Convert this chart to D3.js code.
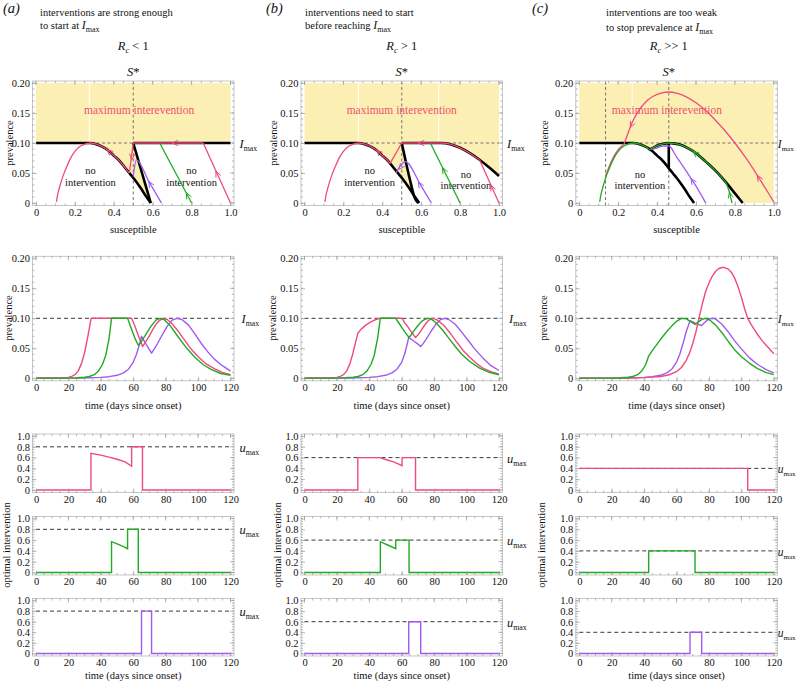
<!DOCTYPE html>
<html><head><meta charset="utf-8">
<script src="https://cdn.jsdelivr.net/npm/d3@7"></script>
<style>
body{margin:0;background:#fff;}
svg text{font-family:"Liberation Serif","DejaVu Serif","Times New Roman",serif !important;fill:#111;}
</style></head><body>
<svg id="chart" width="798" height="683"></svg>
<script>
// ================= DATA =================
const panelLetters = ["(a)","(b)","(c)"];
const headerLine1 = ["interventions are strong enough","interventions need to start","interventions are too weak"];
const headerLine2 = ["to start at ","before reaching ","to stop prevalence at "];
const rcRelation = [" < 1"," > 1"," >> 1"];
const Imax = 0.1;
const umaxValues = [0.8, 0.6, 0.4];
const sStarValues = [0.5, 0.5, 0.46];
const extraDashedS = [[], [], [0.135]];
const maxTextS = [0.53, 0.5, 0.45];

const sTicks = [0,0.2,0.4,0.6,0.8,1.0];
const sTickLabels = ["0","0.2","0.4","0.6","0.8","1.0"];
const iTicks = [0,0.05,0.1,0.15,0.2];
const iTickLabels = ["0","0.05","0.10","0.15","0.20"];
const tTicks = [0,20,40,60,80,100,120];
const tTickLabels = ["0","20","40","60","80","100","120"];
const uTicks = [0,0.2,0.4,0.6,0.8,1.0];
const uTickLabels = ["0","0.2","0.4","0.6","0.8","1.0"];

// ---- phase plane (susceptible, prevalence) ----
const maxInterventionZone = [[0,0.1],[1,0.1],[1,0.2],[0,0.2]];
const peakCurveLeft = [[0.105,0.002],[0.11,0.012],[0.12,0.025],[0.14,0.046],[0.16,0.062],[0.18,0.076],[0.2,0.086],[0.22,0.093],[0.25,0.098],[0.28,0.1]];
const peakCurveRight = [[0.28,0.1],[0.31,0.098],[0.34,0.094],[0.37,0.088],[0.4,0.079],[0.43,0.07],[0.46,0.058],[0.48,0.05],[0.5,0.042],[0.54,0.024],[0.57,0.009],[0.59,0]];
const imaxFlatLeft = [[0,0.1],[0.28,0.1]];
const imaxFlatRightA = [[0.5,0.1],[1.0,0.1]];
const controlLineA = [[0.5,0.1],[0.545,0.05],[0.59,0]];
const controlLineB = [[0.5,0.1],[0.52,0.07],[0.545,0.035],[0.565,0.01],[0.585,0]];
const boundaryRightB = [[0.5,0.1],[0.7,0.1],[0.75,0.098],[0.8,0.092],[0.85,0.083],[0.9,0.072],[0.95,0.059],[1.0,0.045]];
const domeC = [[0.357,0.088],[0.38,0.092],[0.41,0.097],[0.44,0.099],[0.46,0.1],[0.49,0.099],[0.52,0.097],[0.56,0.091],[0.6,0.083],[0.65,0.069],[0.7,0.054],[0.75,0.036],[0.8,0.016],[0.84,0]];
const verticalC = [[0.46,0.1],[0.46,0.058]];
const whiteLinesA = [[0.274,0.1,0.2]];
const whiteLinesB = [[0.277,0.1,0.2],[0.69,0.1,0.2]];
const whiteLinesC = [[0.272,0.135,0.2]];

// trajectories (a)
const pinkA_rise = [[0.86,0.1],[1.0,0]];
const pinkA_hold = [[0.5,0.1],[0.86,0.1]];
const pinkA_drop = [[0.48,0.05],[0.5,0.1]];
const greenA_rise = [[0.636,0.1],[0.8,0]];
const purpleA_path = [[0.5,0.044],[0.516,0.072],[0.58,0.036],[0.645,0]];
// trajectories (b)
const pinkB_rise = [[0.9,0.072],[1.0,0]];
const pinkB_drop = [[0.44,0.066],[0.5,0.1]];
const greenB_rise = [[0.647,0.1],[0.8,0]];
const purpleB_path = [[0.47,0.05],[0.518,0.069],[0.6,0.028],[0.652,0]];
// trajectories (c)
const pinkC_dome = [[0.23,0.098],[0.25,0.116],[0.27,0.133],[0.3,0.151],[0.34,0.168],[0.38,0.178],[0.42,0.183],[0.46,0.185],[0.5,0.183],[0.55,0.177],[0.6,0.167],[0.65,0.154],[0.7,0.138],[0.75,0.12],[0.8,0.1],[0.85,0.078],[0.9,0.054],[0.95,0.028],[1.0,0.002]];
const pinkC_tail = [[0.135,0.045],[0.15,0.058],[0.17,0.073],[0.2,0.089],[0.23,0.098]];
const greenC_start = [[0.75,0.036],[0.77,0.02],[0.785,0]];
const purpleC_path = [[0.37,0.089],[0.4,0.092],[0.43,0.095],[0.46,0.095],[0.5,0.077],[0.55,0.053],[0.6,0.028],[0.65,0]];

// arrows: [atS, atI, fromS, fromI]
const arrowsPinkA = [[0.925,0.053,1.0,0],[0.70,0.1,0.8,0.1],[0.492,0.072,0.5,0.1],[0.365,0.089,0.4,0.079]];
const arrowsGreenA = [[0.773,0.017,0.8,0]];
const arrowsPurpleA = [[0.58,0.036,0.645,0]];
const arrowsPinkB = [[0.958,0.03,1.0,0],[0.585,0.1,0.65,0.1],[0.37,0.088,0.4,0.079]];
const arrowsGreenB = [[0.71,0.059,0.8,0]];
const arrowsPurpleB = [[0.585,0.035,0.652,0],[0.485,0.056,0.518,0.069]];
const arrowsPinkC = [[0.915,0.046,1.0,0.002],[0.262,0.126,0.3,0.151]];
const arrowsGreenC = [[0.585,0.086,0.65,0.069],[0.772,0.018,0.785,0]];
const arrowsPurpleC = [[0.575,0.041,0.65,0]];

// ---- prevalence over time (t, I) ----
const tsPinkA = [[0,0.0005],[10,0.0006],[15,0.0009],[20,0.0016],[22,0.003],[24,0.006],[26,0.012],[28,0.024],[30,0.043],[32,0.07],[33,0.085],[34,0.1],[59,0.1],[61,0.087],[63,0.072],[65.7,0.053],[68,0.062],[70,0.071],[72,0.081],[74,0.09],[76,0.096],[78.5,0.1],[81,0.098],[84,0.091],[87,0.081],[90,0.07],[95,0.051],[100,0.036],[105,0.024],[110,0.016],[115,0.01],[120,0.006]];
const tsGreenA = [[0,0.0003],[20,0.0006],[25,0.001],[30,0.0017],[33,0.003],[36,0.006],[38.5,0.012],[41,0.023],[43,0.038],[45,0.065],[46.6,0.1],[56.5,0.1],[58.5,0.085],[61,0.067],[63.1,0.055],[65,0.061],[68,0.074],[71,0.087],[74,0.097],[76.5,0.1],[79,0.098],[83,0.087],[88,0.068],[93,0.05],[98,0.035],[103,0.023],[108,0.015],[114,0.008],[120,0.005]];
const tsPurpleA = [[0,0.0002],[20,0.0003],[30,0.0006],[40,0.0015],[45,0.0027],[50,0.005],[54,0.009],[57,0.015],[60,0.027],[62,0.04],[64,0.058],[65.1,0.07],[67,0.061],[69,0.052],[71.3,0.042],[73,0.049],[75,0.058],[78,0.073],[81,0.087],[84,0.097],[87,0.1],[90,0.098],[94,0.089],[98,0.074],[102,0.058],[106,0.044],[110,0.032],[115,0.021],[120,0.012]];
const tsPinkB = [[0,0.0005],[10,0.0006],[15,0.0009],[20,0.0016],[22,0.003],[24,0.006],[26,0.012],[28,0.024],[30,0.043],[31.5,0.06],[32.9,0.075],[35,0.082],[38,0.089],[41,0.094],[44,0.098],[46.4,0.1],[60.2,0.1],[62,0.092],[64,0.085],[66,0.077],[68.5,0.068],[70,0.072],[72,0.08],[74,0.088],[76,0.095],[78,0.099],[79.5,0.1],[82,0.097],[86,0.088],[90,0.075],[94,0.06],[98,0.046],[102,0.035],[106,0.025],[110,0.017],[115,0.011],[120,0.007]];
const tsGreenB = [[0,0.0003],[20,0.0006],[25,0.001],[30,0.0017],[33,0.003],[36,0.006],[38.5,0.012],[41,0.023],[43,0.038],[45,0.065],[46.8,0.1],[56.3,0.1],[58,0.093],[60,0.085],[62,0.077],[64.5,0.068],[66,0.073],[68,0.081],[70,0.088],[72,0.094],[74,0.098],[76,0.1],[78,0.099],[81,0.093],[85,0.081],[89,0.067],[93,0.053],[97,0.04],[102,0.028],[108,0.017],[114,0.01],[120,0.006]];
const tsPurpleB = [[0,0.0002],[20,0.0003],[30,0.0006],[40,0.0015],[45,0.0027],[50,0.005],[54,0.009],[57,0.015],[60,0.027],[62,0.042],[64.3,0.068],[66,0.065],[68,0.061],[70,0.057],[71.7,0.053],[73,0.057],[75,0.065],[78,0.078],[81,0.09],[84,0.098],[86.5,0.1],[89,0.098],[93,0.09],[97,0.077],[101,0.063],[105,0.049],[110,0.034],[115,0.021],[120,0.013]];
const tsPinkC = [[0,0.0001],[20,0.0003],[30,0.0006],[40,0.0012],[45,0.0019],[50,0.003],[55,0.0055],[60,0.011],[63,0.018],[66,0.03],[68,0.042],[70,0.058],[72,0.078],[73.8,0.1],[76,0.125],[78,0.145],[80,0.159],[82,0.17],[84,0.178],[86,0.183],[89,0.185],[92,0.182],[94,0.176],[96,0.166],[98,0.152],[100,0.135],[102,0.116],[103.9,0.1],[106,0.09],[108,0.081],[110,0.073],[113,0.062],[116,0.053],[120,0.041]];
const tsGreenC = [[0,0.0003],[20,0.0006],[25,0.001],[30,0.0017],[33,0.003],[36,0.006],[38.5,0.012],[41,0.023],[42.8,0.037],[45,0.046],[48,0.057],[51,0.068],[54,0.078],[57,0.087],[60,0.095],[63,0.1],[66,0.099],[68.5,0.095],[71.4,0.09],[73,0.093],[75,0.097],[77.5,0.1],[80,0.098],[84,0.089],[88,0.076],[92,0.061],[96,0.047],[100,0.036],[105,0.025],[110,0.016],[115,0.01],[120,0.006]];
const tsPurpleC = [[0,0.0002],[20,0.0003],[30,0.0006],[40,0.0015],[45,0.0027],[50,0.005],[54,0.009],[57,0.015],[60,0.027],[62,0.04],[64,0.058],[66,0.078],[68.3,0.096],[70,0.094],[72,0.091],[75.5,0.088],[77,0.092],[79,0.097],[81.5,0.1],[84,0.099],[88,0.09],[92,0.077],[96,0.062],[100,0.049],[105,0.034],[110,0.023],[115,0.015],[120,0.009]];

// ---- optimal intervention (t, u) ----
const uPinkA = [[0,0],[33.9,0],[33.9,0.68],[40,0.645],[45,0.61],[50,0.57],[55,0.52],[59,0.44],[59,0.8],[65.7,0.8],[65.7,0],[120,0]];
const uGreenA = [[0,0],[46.6,0],[46.6,0.57],[50,0.53],[54,0.48],[56.5,0.44],[56.5,0.8],[63.1,0.8],[63.1,0],[120,0]];
const uPurpleA = [[0,0],[65.1,0],[65.1,0.8],[71.3,0.8],[71.3,0],[120,0]];
const uPinkB = [[0,0],[32.9,0],[32.9,0.6],[46.4,0.6],[50,0.565],[55,0.52],[60.2,0.45],[60.2,0.6],[68.5,0.6],[68.5,0],[120,0]];
const uGreenB = [[0,0],[46.8,0],[46.8,0.57],[52,0.5],[56.3,0.44],[56.3,0.6],[64.5,0.6],[64.5,0],[120,0]];
const uPurpleB = [[0,0],[64.3,0],[64.3,0.6],[71.7,0.6],[71.7,0],[120,0]];
const uPinkC = [[0,0.4],[103.9,0.4],[103.9,0],[120,0]];
const uGreenC = [[0,0],[42.8,0],[42.8,0.4],[71.4,0.4],[71.4,0],[120,0]];
const uPurpleC = [[0,0],[68.3,0],[68.3,0.4],[75.5,0.4],[75.5,0],[120,0]];

// ================= STYLE / LAYOUT =================
const PINK = "#ef4a80", GREEN = "#22aa22", PURPLE = "#a05af0", YELLOW = "#fcefb3";
const SERIF = "Liberation Serif, DejaVu Serif, serif";
const colX0 = [36, 304.5, 579.3];
const plotW = 194.5;
const labelGap = [9, 8, 4];
const labelSize = [12.5, 12.5, 11.5];
const subSize = [7.8, 7.8, 7];
const phaseRange = [203, 83];
const timeRange = [378.3, 258.3];
const uRanges = [[490, 436], [572.5, 518.5], [653.5, 600.5]];

const svg = d3.select("#chart");

function frameAxes(g, xs, ys, xT, xL, yT, yL, xMinor, yMinor) {
  const [xa, xb] = xs.range();
  const [ya, yb] = ys.range();
  const L = xa - 3.5, R = xb + 3.5, B = ya + 2.5, T = yb - 2;
  g.append("rect").attr("x", L).attr("y", T).attr("width", R - L).attr("height", B - T)
    .attr("fill", "none").attr("stroke", "#b8b8b8").attr("stroke-width", 0.8);
  const tk = g.append("g").attr("stroke", "#9a9a9a").attr("stroke-width", 0.7);
  const xd = xs.domain(), yd = ys.domain();
  d3.range(xd[0], xd[1] + 1e-9, xMinor).forEach(v => {
    tk.append("line").attr("x1", xs(v)).attr("x2", xs(v)).attr("y1", B).attr("y2", B - 2);
    tk.append("line").attr("x1", xs(v)).attr("x2", xs(v)).attr("y1", T).attr("y2", T + 2);
  });
  d3.range(yd[0], yd[1] + 1e-9, yMinor).forEach(v => {
    tk.append("line").attr("x1", L).attr("x2", L + 2).attr("y1", ys(v)).attr("y2", ys(v));
    tk.append("line").attr("x1", R).attr("x2", R - 2).attr("y1", ys(v)).attr("y2", ys(v));
  });
  xT.forEach(v => tk.append("line").attr("x1", xs(v)).attr("x2", xs(v)).attr("y1", T).attr("y2", T + 4));
  yT.forEach(v => tk.append("line").attr("x1", R).attr("x2", R - 4).attr("y1", ys(v)).attr("y2", ys(v)));
  const ax = g.append("g").attr("transform", `translate(0,${B})`)
    .call(d3.axisBottom(xs).tickValues(xT).tickFormat((d, i) => xL[i]).tickSize(-4).tickPadding(3));
  const ay = g.append("g").attr("transform", `translate(${L},0)`)
    .call(d3.axisLeft(ys).tickValues(yT).tickFormat((d, i) => yL[i]).tickSize(-4).tickPadding(2.5));
  [ax, ay].forEach(a => {
    a.attr("font-family", SERIF);
    a.select(".domain").remove();
    a.selectAll(".tick line").attr("stroke", "#9a9a9a").attr("stroke-width", 0.7);
    a.selectAll(".tick text").attr("font-size", 10.5).attr("fill", "#222").style("font-family", SERIF);
  });
}

function subLabel(g, x, y, base, sub, k) {
  const t = g.append("text").attr("x", x).attr("y", y).attr("font-size", labelSize[k]);
  t.append("tspan").attr("font-style", "italic").text(base);
  t.append("tspan").attr("font-size", subSize[k]).attr("dy", 3).text(sub);
  return t;
}

function vlabel(g, x, y, txt) {
  g.append("text").attr("transform", `translate(${x},${y}) rotate(-90)`)
    .attr("text-anchor", "middle").attr("font-size", 10.5).text(txt);
}

function drawArrow(g, sx, sy, a, color) {
  const x2 = sx(a[0]), y2 = sy(a[1]), x1 = sx(a[2]), y1 = sy(a[3]);
  const ang = Math.atan2(y2 - y1, x2 - x1), Lh = 6.5, sp = 0.42;
  const pts = [[x2 - Lh * Math.cos(ang - sp), y2 - Lh * Math.sin(ang - sp)], [x2, y2],
               [x2 - Lh * Math.cos(ang + sp), y2 - Lh * Math.sin(ang + sp)]];
  g.append("path").attr("d", d3.line()(pts)).attr("fill", "none").attr("stroke", color).attr("stroke-width", 1);
}

// ---------- phase specs ----------
const phaseSpecs = [
  {
    yellow: [maxInterventionZone, [[0.28,0.1],...controlLineA, ...peakCurveRight.slice().reverse()]],
    white: whiteLinesA,
    black: [imaxFlatLeft, imaxFlatRightA, peakCurveRight, controlLineA],
    traj: [
      {color: PURPLE, pieces: [purpleA_path], arrows: arrowsPurpleA},
      {color: GREEN, pieces: [greenA_rise], arrows: arrowsGreenA},
      {color: PINK, pieces: [pinkA_rise, pinkA_hold, pinkA_drop, peakCurveRight.filter(p => p[0] <= 0.48), peakCurveLeft], arrows: arrowsPinkA}
    ],
    noInt: [[0.28, 0.049, 0.029], [0.8, 0.049, 0.029]]
  },
  {
    yellow: [maxInterventionZone, [[0.28,0.1],...controlLineB, ...peakCurveRight.slice().reverse()],
             [[0.7,0.1],[1.0,0.1], ...boundaryRightB.filter(p => p[0] >= 0.7).reverse()]],
    white: whiteLinesB,
    black: [imaxFlatLeft, peakCurveRight, controlLineB, boundaryRightB],
    traj: [
      {color: PURPLE, pieces: [purpleB_path], arrows: arrowsPurpleB},
      {color: GREEN, pieces: [greenB_rise], arrows: arrowsGreenB},
      {color: PINK, pieces: [pinkB_rise, boundaryRightB.filter(p => p[0] <= 0.9), pinkB_drop, [...peakCurveRight.filter(p => p[0] <= 0.43), [0.44,0.066]], peakCurveLeft], arrows: arrowsPinkB}
    ],
    noInt: [[0.335, 0.049, 0.029], [0.83, 0.041, 0.024]]
  },
  {
    yellow: [[[0,0.1],[0,0.2],[1,0.2],[1,0],...domeC.slice().reverse(), ...peakCurveRight.filter(p => p[0] <= 0.34).reverse()]],
    white: whiteLinesC,
    black: [imaxFlatLeft, peakCurveRight, domeC, verticalC],
    traj: [
      {color: PURPLE, pieces: [purpleC_path], arrows: arrowsPurpleC},
      {color: PINK, pieces: [pinkC_dome, pinkC_tail], arrows: arrowsPinkC},
      {color: GREEN, pieces: [greenC_start, domeC.filter(p => p[0] <= 0.75), [...peakCurveRight.filter(p => p[0] <= 0.34), [0.357,0.09]], peakCurveLeft], arrows: arrowsGreenC}
    ],
    noInt: [[0.312, 0.042, 0.024]]
  }
];

function drawPiece(g, sx, sy, piece, color, width) {
  const pts = piece.slice().sort((a, b) => a[0] - b[0]);
  let strictly = pts.length > 2;
  for (let i = 1; i < pts.length; i++) if (pts[i][0] <= pts[i - 1][0]) strictly = false;
  const ln = d3.line().x(d => sx(d[0])).y(d => sy(d[1])).curve(strictly ? d3.curveMonotoneX : d3.curveLinear);
  g.append("path").attr("d", ln(strictly ? pts : piece)).attr("fill", "none")
    .attr("stroke", color).attr("stroke-width", width).attr("stroke-linejoin", "round").attr("stroke-linecap", "butt");
}

for (let k = 0; k < 3; k++) {
  const x0 = colX0[k];
  const spec = phaseSpecs[k];
  const g = svg.append("g");
  const sx = d3.scaleLinear().domain([0, 1]).range([x0, x0 + plotW]);
  const sy = d3.scaleLinear().domain([0, 0.2]).range(phaseRange);
  const lin = d3.line().x(d => sx(d[0])).y(d => sy(d[1]));

  spec.yellow.forEach(p => g.append("path").attr("d", lin(p) + "Z").attr("fill", YELLOW));
  spec.white.forEach(w => g.append("line").attr("x1", sx(w[0])).attr("x2", sx(w[0]))
    .attr("y1", sy(w[1])).attr("y2", sy(w[2])).attr("stroke", "#fff").attr("stroke-width", 1));

  g.append("text").attr("x", sx(maxTextS[k])).attr("y", sy(0.155) + 4).attr("text-anchor", "middle")
    .attr("font-size", 11.5).style("fill", "#f0506e").text("maximum interevention");
  spec.noInt.forEach(n => {
    g.append("text").attr("x", sx(n[0])).attr("y", sy(n[1])).attr("text-anchor", "middle").attr("font-size", 10.5).text("no");
    g.append("text").attr("x", sx(n[0])).attr("y", sy(n[2])).attr("text-anchor", "middle").attr("font-size", 10.5).text("intervention");
  });

  const dash = g.append("g").attr("stroke", "#666").attr("stroke-width", 0.9).attr("stroke-dasharray", "3,2.5");
  dash.append("line").attr("x1", sx(0)).attr("x2", sx(1)).attr("y1", sy(Imax)).attr("y2", sy(Imax));
  [sStarValues[k], ...extraDashedS[k]].forEach(s =>
    dash.append("line").attr("x1", sx(s)).attr("x2", sx(s)).attr("y1", phaseRange[0] + 2.5).attr("y2", phaseRange[1] - 2));

  spec.black.forEach(p => drawPiece(g, sx, sy, p, "#000", 2.6));
  spec.traj.forEach(tr => {
    tr.pieces.forEach(p => drawPiece(g, sx, sy, p, tr.color, 1.3));
    tr.arrows.forEach(a => drawArrow(g, sx, sy, a, tr.color));
  });

  frameAxes(g, sx, sy, sTicks, sTickLabels, iTicks, iTickLabels, 0.05, 0.01);

  subLabel(g, x0 + plotW + labelGap[k], sy(Imax) + 4.5, "I", "max", k);
  const sst = g.append("text").attr("x", sx(sStarValues[k])).attr("y", 76).attr("text-anchor", "middle").attr("font-size", 12.5);
  sst.append("tspan").attr("font-style", "italic").text("S");
  sst.append("tspan").text("*");
  const rc = g.append("text").attr("x", sx(sStarValues[k])).attr("y", 50).attr("text-anchor", "middle").attr("font-size", 12.5);
  rc.append("tspan").attr("font-style", "italic").text("R");
  rc.append("tspan").attr("font-style", "italic").attr("font-size", 8.5).attr("dy", 3).text("c");
  rc.append("tspan").attr("dy", -3).text(rcRelation[k]);
  g.append("text").attr("x", x0 + plotW / 2).attr("y", 233).attr("text-anchor", "middle").attr("font-size", 10.5).text("susceptible");
}

// headers
const headerX = [40, 305, 606];
const letterX = [3, 266, 532];
for (let k = 0; k < 3; k++) {
  svg.append("text").attr("x", letterX[k]).attr("y", 13).attr("font-size", 14.5).attr("font-style", "italic").text(panelLetters[k]);
  svg.append("text").attr("x", headerX[k]).attr("y", 16).attr("font-size", 10.5).text(headerLine1[k]);
  const h2 = svg.append("text").attr("x", headerX[k]).attr("y", k === 2 ? 31 : 29).attr("font-size", 10.5);
  h2.append("tspan").text(headerLine2[k]);
  h2.append("tspan").attr("font-style", "italic").attr("font-size", 12).text("I");
  h2.append("tspan").attr("font-size", 8).attr("dy", 3).text("max");
}
const prevLabelX = [13, 277, 548];
const optLabelX = [10, 281, 545];
for (let k = 0; k < 3; k++) {
  vlabel(svg, prevLabelX[k], 143, "prevalence");
  vlabel(svg, prevLabelX[k] - 1, 318, "prevalence");
  vlabel(svg, optLabelX[k], 545, "optimal intervention");
}

// ---------- time series ----------
const tsSets = [[tsPinkA, tsGreenA, tsPurpleA], [tsPinkB, tsGreenB, tsPurpleB], [tsPinkC, tsGreenC, tsPurpleC]];
const tsColors = [PINK, GREEN, PURPLE];
const tsOrder = [2, 0, 1];
for (let k = 0; k < 3; k++) {
  const x0 = colX0[k];
  const g = svg.append("g");
  const tx = d3.scaleLinear().domain([0, 120]).range([x0, x0 + plotW]);
  const iy = d3.scaleLinear().domain([0, 0.2]).range(timeRange);
  const ln = d3.line().x(d => tx(d[0])).y(d => iy(d[1]));
  g.append("line").attr("x1", tx(0)).attr("x2", tx(120)).attr("y1", iy(Imax)).attr("y2", iy(Imax))
    .attr("stroke", "#222").attr("stroke-width", 0.9).attr("stroke-dasharray", "4,3");
  tsOrder.forEach(j => g.append("path").attr("d", ln(tsSets[k][j])).attr("fill", "none")
    .attr("stroke", tsColors[j]).attr("stroke-width", 1.4).attr("stroke-linejoin", "round"));
  frameAxes(g, tx, iy, tTicks, tTickLabels, iTicks, iTickLabels, 5, 0.01);
  subLabel(g, x0 + plotW + labelGap[k] + (k === 2 ? 0 : 2), iy(Imax) + 4.5, "I", "max", k);
  g.append("text").attr("x", x0 + plotW / 2).attr("y", 409).attr("text-anchor", "middle").attr("font-size", 10.5).text("time (days since onset)");
}

// ---------- optimal intervention ----------
const uSets = [[uPinkA, uGreenA, uPurpleA], [uPinkB, uGreenB, uPurpleB], [uPinkC, uGreenC, uPurpleC]];
for (let k = 0; k < 3; k++) {
  const x0 = colX0[k];
  const tx = d3.scaleLinear().domain([0, 120]).range([x0, x0 + plotW]);
  for (let p = 0; p < 3; p++) {
    const g = svg.append("g");
    const uy = d3.scaleLinear().domain([0, 1]).range(uRanges[p]);
    const ln = d3.line().x(d => tx(d[0])).y(d => uy(d[1]));
    g.append("line").attr("x1", tx(0)).attr("x2", tx(120)).attr("y1", uy(umaxValues[k])).attr("y2", uy(umaxValues[k]))
      .attr("stroke", "#222").attr("stroke-width", 0.9).attr("stroke-dasharray", "4,3");
    g.append("path").attr("d", ln(uSets[k][p])).attr("fill", "none").attr("stroke", tsColors[p])
      .attr("stroke-width", 1.4).attr("stroke-linejoin", "miter");
    frameAxes(g, tx, uy, tTicks, tTickLabels, uTicks, uTickLabels, 5, 0.05);
    subLabel(g, x0 + plotW + labelGap[k], uy(umaxValues[k]) + 5, "u", "max", k);
  }
  svg.append("text").attr("x", x0 + plotW / 2).attr("y", 679).attr("text-anchor", "middle").attr("font-size", 10.5).text("time (days since onset)");
}
</script>
</body></html>
